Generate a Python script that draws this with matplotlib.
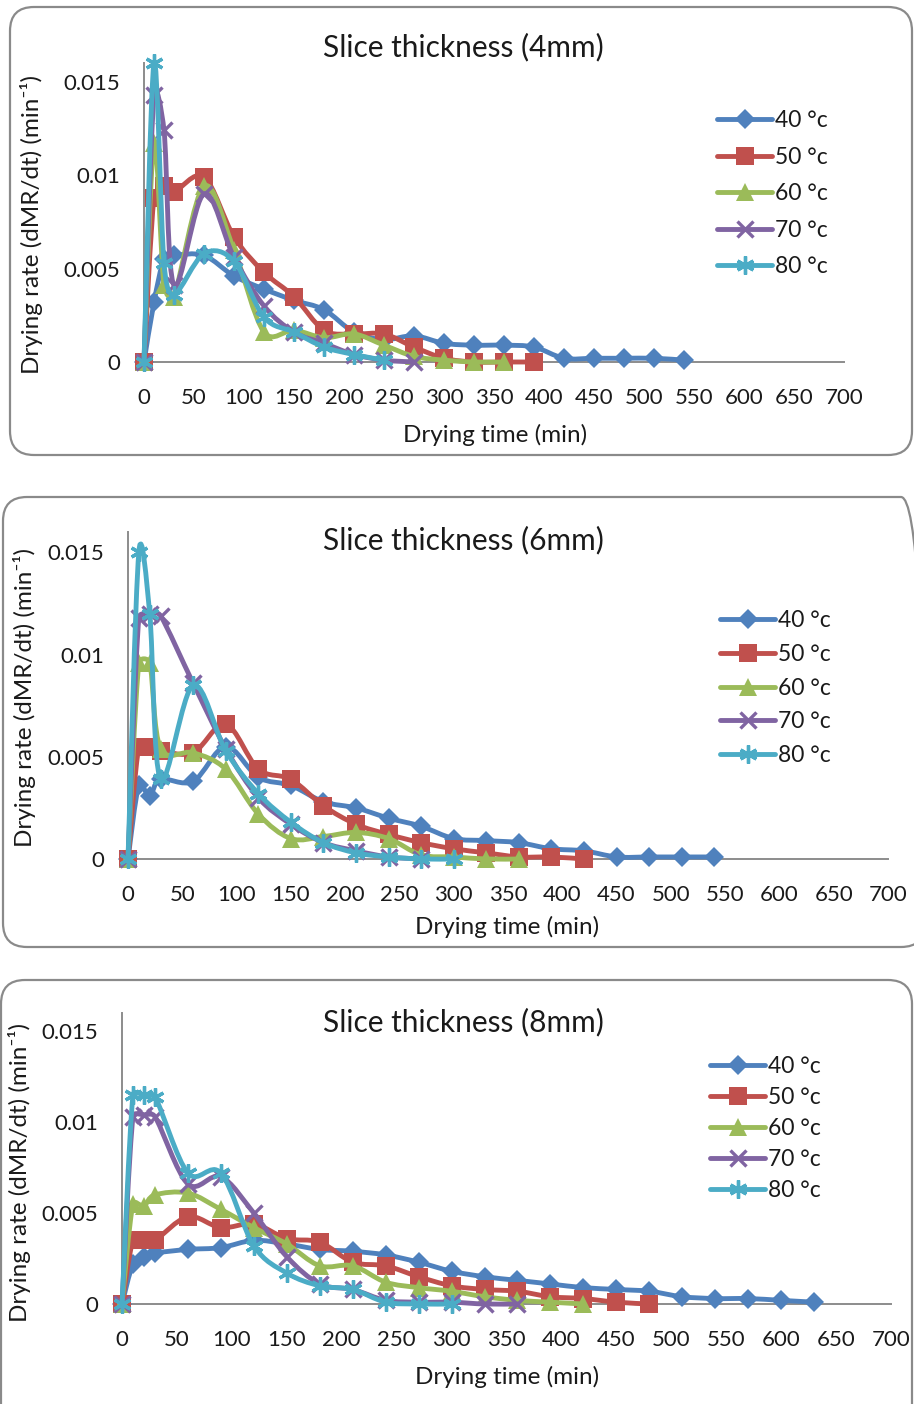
import matplotlib
matplotlib.use("Agg")
import matplotlib.pyplot as plt
import numpy as np
from matplotlib.path import Path
from matplotlib.patches import PathPatch, FancyBboxPatch
from matplotlib.lines import Line2D
from matplotlib.transforms import IdentityTransform

# drying times (min), series use the first len(values) entries
times = [0, 10, 20, 30, 60, 90, 120, 150, 180, 210, 240, 270, 300, 330,
         360, 390, 420, 450, 480, 510, 540, 570, 600, 630]

temp_labels = ["40 °c", "50 °c", "60 °c", "70 °c", "80 °c"]

# slice thickness 4 mm
rate_4mm_40 = [0, 0.0032, 0.0055, 0.0057, 0.0057, 0.0046, 0.0039, 0.0033, 0.0028, 0.0016,
               0.0012, 0.0014, 0.0010, 0.0009, 0.0009, 0.0008, 0.0002, 0.0002, 0.0002, 0.0002, 0.0001]
rate_4mm_50 = [0, 0.0088, 0.0094, 0.0091, 0.0099, 0.0067, 0.0048, 0.0035, 0.0017, 0.0015,
               0.0015, 0.0008, 0.0002, 0.0, 0.0, 0.0]
rate_4mm_60 = [0, 0.0117, 0.0041, 0.0035, 0.0094, 0.0060, 0.0016, 0.0017, 0.0013, 0.0015,
               0.0009, 0.0003, 0.0001, 0.0, 0.0]
rate_4mm_70 = [0, 0.0143, 0.0124, 0.0041, 0.0090, 0.0056, 0.0030, 0.0016, 0.0010, 0.0004,
               0.0001, 0.0]
rate_4mm_80 = [0, 0.0160, 0.0053, 0.0036, 0.0058, 0.0054, 0.0024, 0.0016, 0.0008, 0.0004, 0.0001]

# slice thickness 6 mm
rate_6mm_40 = [0, 0.0036, 0.0031, 0.0039, 0.0038, 0.0055, 0.0040, 0.0036, 0.0028, 0.0025,
               0.0020, 0.0016, 0.0010, 0.0009, 0.0008, 0.0005, 0.0004, 0.0001, 0.0001, 0.0001, 0.0001]
rate_6mm_50 = [0, 0.0055, 0.0055, 0.0053, 0.0052, 0.0066, 0.0044, 0.0039, 0.0026, 0.0017,
               0.0012, 0.0008, 0.0005, 0.0003, 0.0001, 0.0001, 0.0]
rate_6mm_60 = [0, 0.0096, 0.0096, 0.0054, 0.0052, 0.0044, 0.0022, 0.0010, 0.0011, 0.0013,
               0.0010, 0.0002, 0.0001, 0.0, 0.0]
rate_6mm_70 = [0, 0.0118, 0.0120, 0.0119, 0.0086, 0.0054, 0.0030, 0.0017, 0.0008, 0.0004,
               0.0001, 0.0]
rate_6mm_80 = [0, 0.0150, 0.0120, 0.0039, 0.0085, 0.0053, 0.0032, 0.0018, 0.0008, 0.0003,
               0.0001, 0.0, 0.0]

# slice thickness 8 mm
rate_8mm_40 = [0, 0.0022, 0.0026, 0.0028, 0.0030, 0.0031, 0.0035, 0.0033, 0.0030, 0.0029,
               0.0027, 0.0023, 0.0018, 0.0015, 0.0013, 0.0011, 0.0009, 0.0008, 0.0007, 0.0004,
               0.0003, 0.0003, 0.0002, 0.0001]
rate_8mm_50 = [0, 0.0035, 0.0035, 0.0035, 0.0048, 0.0042, 0.0044, 0.0036, 0.0034, 0.0023,
               0.0021, 0.0015, 0.0010, 0.0008, 0.0007, 0.0004, 0.0003, 0.0001, 0.0]
rate_8mm_60 = [0, 0.0055, 0.0054, 0.0060, 0.0061, 0.0052, 0.0042, 0.0033, 0.0021, 0.0021,
               0.0012, 0.0009, 0.0007, 0.0004, 0.0002, 0.0001, 0.0]
rate_8mm_70 = [0, 0.0103, 0.0104, 0.0103, 0.0066, 0.0070, 0.0050, 0.0026, 0.0011, 0.0008,
               0.0002, 0.0001, 0.0001, 0.0, 0.0]
rate_8mm_80 = [0, 0.0115, 0.0115, 0.0114, 0.0072, 0.0072, 0.0032, 0.0017, 0.0010, 0.0008,
               0.0001, 0.0, 0.0]

xticks = [0, 50, 100, 150, 200, 250, 300, 350, 400, 450, 500, 550, 600, 650, 700]
yticks = [0, 0.005, 0.01, 0.015]
ytick_labels = ["0", "0.005", "0.01", "0.015"]

W, H = 914, 1404
FONT = ["Lato", "DejaVu Sans"]
colors = ["#4F81BD", "#C0504D", "#9BBB59", "#8064A2", "#4BACC6"]
markers = [dict(marker="D", markersize=10.5, mew=0),
           dict(marker="s", markersize=12.5, mew=0),
           dict(marker="^", markersize=12.5, mew=0),
           dict(marker="x", markersize=11, mew=2.4),
           dict(marker=(6, 2, 0), markersize=13, mew=2.4)]
LW = 3.5


def fx(px):
    return px / W


def fy(py):
    return 1 - py / H


def smooth_path(x, y, sx, sy):
    """
    Excel style smoothed line: Catmull-Rom Bezier segments, with the control
    arms limited to half the segment length (measured on screen)
    """
    pts = np.column_stack([np.asarray(x, float) * sx, np.asarray(y, float) * sy])
    n = len(pts)

    def arm(v, seg):
        d = np.hypot(*v) / 6
        if d == 0:
            return v * 0
        return v / 6 * min(1.0, seg / 2 / d)

    verts = [pts[0]]
    codes = [Path.MOVETO]
    for i in range(n - 1):
        p0 = pts[max(i - 1, 0)]
        p1 = pts[i]
        p2 = pts[i + 1]
        p3 = pts[min(i + 2, n - 1)]
        seg = np.hypot(*(p2 - p1))
        verts += [p1 + arm(p2 - p0, seg), p2 - arm(p3 - p1, seg), p2]
        codes += [Path.CURVE4] * 3
    verts = np.array(verts) / np.array([sx, sy])
    return Path(verts, codes)


def panel(fig, series, box, ax_px, title, title_xy, xlabel_xy, ylabel_xy, leg_xy, leg_space):
    """
    Draws one Excel-like drying rate panel

    :param series: list of 5 lists of rates
    :param box: (x0, y_top, x1, y_bottom) of the rounded frame in pixels
    :param ax_px: (x_left, x_right, y_zero, y_top) of the plot area in pixels
    """
    bx0, by0, bx1, by1 = box
    frame = FancyBboxPatch((bx0, H - by1), bx1 - bx0, by1 - by0,
                           boxstyle="round,pad=0,rounding_size=24",
                           transform=IdentityTransform(), facecolor="none",
                           edgecolor="#8a8a8a", linewidth=1.6, zorder=-1)
    fig.patches.append(frame)

    xl, xr, yz, yt = ax_px
    ax = fig.add_axes([fx(xl), fy(yz), (xr - xl) / W, (yz - yt) / H])
    ax.patch.set_alpha(0)
    ax.set_xlim(0, 700)
    ax.set_ylim(0, 0.016)
    sx = (xr - xl) / 700
    sy = (yz - yt) / 0.016

    for i, vals in enumerate(series):
        t = times[:len(vals)]
        patch = PathPatch(smooth_path(t, vals, sx, sy), facecolor="none",
                          edgecolor=colors[i], linewidth=LW, capstyle="round",
                          joinstyle="round", zorder=3 + 2 * i, clip_on=False)
        ax.add_patch(patch)
        ax.plot(t, vals, linestyle="none", color=colors[i], zorder=4 + 2 * i,
                clip_on=False, **markers[i])

    for side in ["top", "right"]:
        ax.spines[side].set_visible(False)
    for side in ["left", "bottom"]:
        ax.spines[side].set_color("#8c8c8c")
        ax.spines[side].set_linewidth(1.4)
    ax.set_xticks(xticks)
    ax.set_xticklabels([str(v) for v in xticks], family=FONT, fontsize=16)
    ax.set_yticks(yticks)
    ax.set_yticklabels(ytick_labels, family=FONT, fontsize=16)
    ax.tick_params(axis="x", length=0, pad=19, colors="#1a1a1a")
    ax.tick_params(axis="y", length=0, pad=17, colors="#1a1a1a")

    fig.text(fx(title_xy[0]), fy(title_xy[1]), title, ha="center", va="center",
             family=FONT, fontsize=21.5, color="#1a1a1a")
    fig.text(fx(xlabel_xy[0]), fy(xlabel_xy[1]), "Drying time (min)", ha="center",
             va="center", family=FONT, fontsize=17.5, color="#1a1a1a")
    fig.text(fx(ylabel_xy[0]), fy(ylabel_xy[1]), "Drying rate (dMR/dt) (min⁻¹)",
             ha="center", va="center", rotation=90, family=FONT, fontsize=17.5,
             color="#1a1a1a")

    handles = [Line2D([], [], color=colors[i], linewidth=LW, solid_capstyle="round",
                      **markers[i]) for i in range(5)]
    leg = fig.legend(handles, temp_labels, loc="upper left",
                     bbox_to_anchor=(fx(leg_xy[0]), fy(leg_xy[1])),
                     frameon=False, borderpad=0, borderaxespad=0,
                     handlelength=2.4, handletextpad=0.15, labelspacing=leg_space,
                     prop=dict(family=FONT, size=16.5))
    for txt in leg.get_texts():
        txt.set_color("#1a1a1a")
    return ax


fig = plt.figure(figsize=(W / 100, H / 100), dpi=100)

panel(fig, [rate_4mm_40, rate_4mm_50, rate_4mm_60, rate_4mm_70, rate_4mm_80],
      box=(10, 7, 912, 455), ax_px=(144, 844, 362, 63),
      title="Slice thickness (4mm)", title_xy=(463, 47), xlabel_xy=(495, 435),
      ylabel_xy=(32, 224), leg_xy=(717, 110), leg_space=0.68)

panel(fig, [rate_6mm_40, rate_6mm_50, rate_6mm_60, rate_6mm_70, rate_6mm_80],
      box=(3, 497, 925, 947), ax_px=(128, 888, 859, 532),
      title="Slice thickness (6mm)", title_xy=(463, 540), xlabel_xy=(507, 927),
      ylabel_xy=(25, 698), leg_xy=(720, 610), leg_space=0.56)

panel(fig, [rate_8mm_40, rate_8mm_50, rate_8mm_60, rate_8mm_70, rate_8mm_80],
      box=(1, 980, 912, 1430), ax_px=(122, 891, 1304, 1013),
      title="Slice thickness (8mm)", title_xy=(463, 1022), xlabel_xy=(507, 1377),
      ylabel_xy=(20, 1172), leg_xy=(710, 1056), leg_space=0.44)

fig.savefig("out.png", dpi=100)
